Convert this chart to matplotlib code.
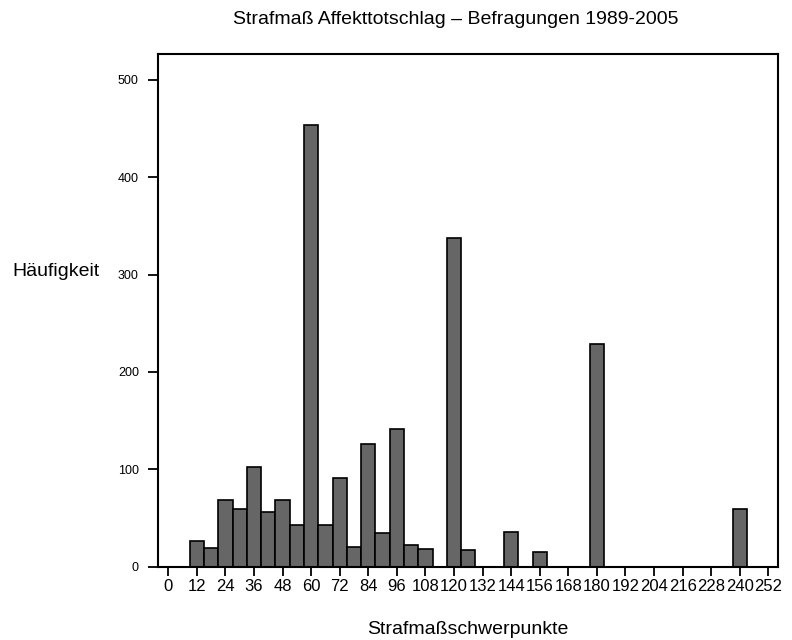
import matplotlib
matplotlib.use("Agg")
import matplotlib.pyplot as plt

plt.rcParams['font.family'] = ['Liberation Sans', 'DejaVu Sans']

# Strafmaßschwerpunkte (bin centres) and counts
punkte = [12, 18, 24, 30, 36, 42, 48, 54, 60, 66, 72, 78, 84, 90, 96, 102, 108,
          120, 126, 144, 156, 180, 240]
haeufigkeit = [26, 19, 69, 59, 102, 56, 68, 43, 454, 43, 91, 20, 126, 35, 141, 22, 18,
               337, 17, 36, 15, 229, 59]
xticks = list(range(0, 253, 12))
yticks = [0, 100, 200, 300, 400, 500]

fig = plt.figure(figsize=(7.92, 6.4), dpi=100)
ax = fig.add_axes([0.1999, 0.1145, 0.7828, 0.8011])

ax.bar(punkte, haeufigkeit, width=6, color="#666666", edgecolor="black", linewidth=1.2)

ax.set_xlim(-4.2, 256.2)
ax.set_ylim(0, 526.4)
ax.set_xticks(xticks)
ax.set_yticks(yticks)
ax.tick_params(axis="y", direction="out", length=7, width=1.3, labelsize=9, pad=7)
ax.tick_params(axis="x", direction="out", length=6.5, width=1.3, labelsize=12, pad=2)
for s in ax.spines.values():
    s.set_linewidth(1.5)

fig.text(456 / 792, 1 - 20 / 640, "Strafmaß Affekttotschlag – Befragungen 1989-2005",
         ha="center", va="center", fontsize=14)
fig.text(12.7 / 792, 1 - 271 / 640, "Häufigkeit", ha="left", va="center", fontsize=14)
fig.text(468 / 792, 1 - 630 / 640, "Strafmaßschwerpunkte", ha="center", va="center", fontsize=14)

fig.savefig("out.png", dpi=100)
